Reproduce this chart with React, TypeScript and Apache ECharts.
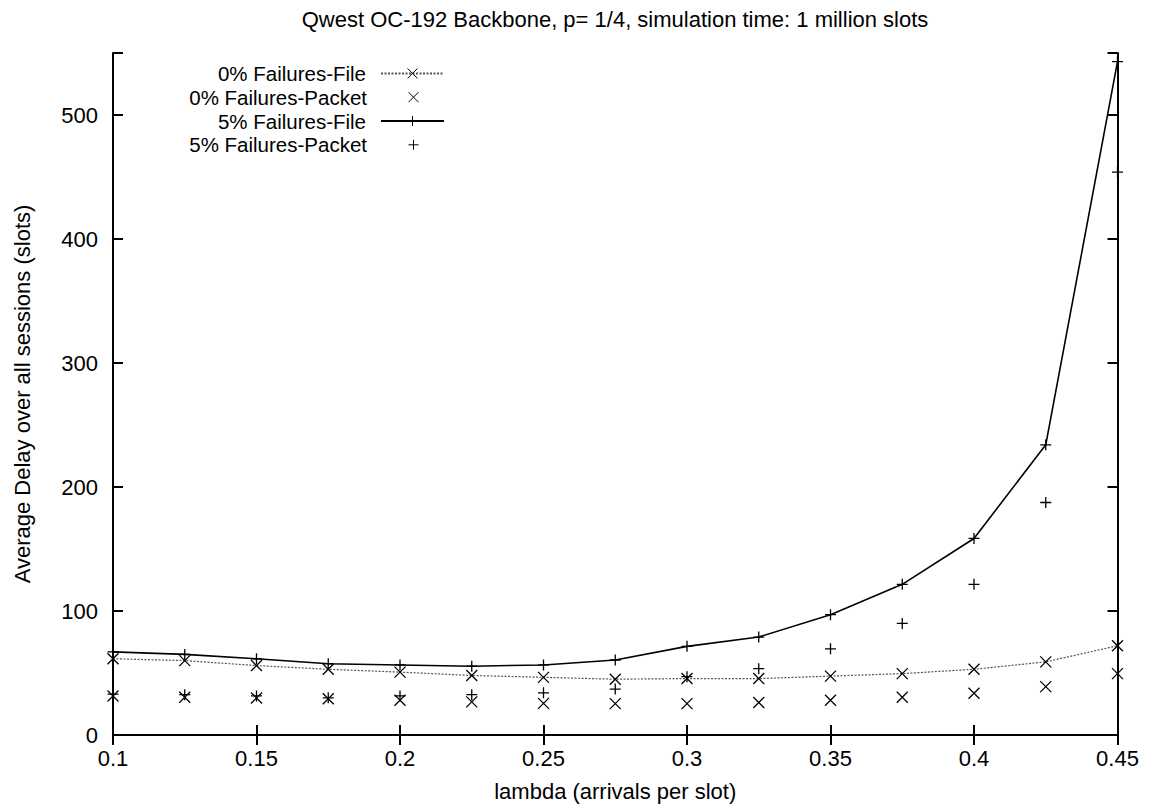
import React, { useEffect, useRef } from "react";
import * as echarts from "echarts";

// ---- data ----
const lambdas = [0.1, 0.125, 0.15, 0.175, 0.2, 0.225, 0.25, 0.275, 0.3, 0.325, 0.35, 0.375, 0.4, 0.425, 0.45];
const fail0File = [61.5, 60, 56, 53, 50.7, 48, 46.5, 45, 45.5, 45.5, 47.5, 49.5, 53, 59, 72];
const fail0Packet = [31.5, 30.5, 29.9, 29.3, 28, 26.7, 25.5, 25.3, 25.3, 26.2, 28, 30.5, 33.7, 39, 49.5];
const fail5File = [67, 65, 61.5, 57.5, 56.5, 55.5, 56.5, 60.5, 71.5, 79, 97, 121.5, 158.5, 234, 543];
const fail5Packet = [33, 32.5, 31.5, 30, 31.5, 32.5, 34, 37, 47, 53.5, 69.5, 90, 121.5, 187.5, 454];
const seriesNames = ["0% Failures-File", "0% Failures-Packet", "5% Failures-File", "5% Failures-Packet"];
const xTicks = { min: 0.1, max: 0.45, interval: 0.05 };
const yTicks = { min: 0, max: 550, interval: 100 };
const titleText = "Qwest OC-192 Backbone, p= 1/4, simulation time: 1 million slots";
const xName = "lambda (arrivals per slot)";
const yName = "Average Delay over all sessions (slots)";

// ---- styling ----
const FONT = "'Liberation Sans', Arial, Helvetica, sans-serif";
const CROSS = "path://M0,0L10,10M10,0L0,10";
const PLUS = "path://M5,0L5,10M0,5L10,5";
const LEGEND_LINE_H = 23.8;
const LEGEND_TOPS = [61.5, 85.3, 109.1, 132.9];

const pairs = (vals: number[]) => lambdas.map((x, i) => [x, vals[i]]);

export default function App() {
  const ref = useRef<HTMLDivElement>(null);
  useEffect(() => {
    if (!ref.current) return;
    const chart = echarts.init(ref.current, undefined, { renderer: "svg" });
    const axisLine = { show: true, lineStyle: { color: "#000", width: 2 } };
    const tick = { show: true, inside: true, length: 10, lineStyle: { color: "#000", width: 2 } };
    const markerStyle = { color: "rgba(0,0,0,0)", borderColor: "#000", borderWidth: 1.3 };
    const option: any = {
      animation: false,
      backgroundColor: "#fff",
      textStyle: { fontFamily: FONT },
      title: {
        text: titleText,
        left: 615,
        top: 8,
        padding: 0,
        textAlign: "center",
        textStyle: { fontFamily: FONT, fontSize: 22, fontWeight: "normal", color: "#000" },
      },
      legend: seriesNames.map((name, i) => ({
        data: [name],
        right: 704,
        top: LEGEND_TOPS[i],
        align: "right",
        orient: "horizontal",
        padding: 0,
        itemWidth: 63,
        itemHeight: 12.5,
        selectedMode: false,
        itemStyle: { borderWidth: 1 },
        textStyle: {
          fontFamily: FONT,
          fontSize: 20.5,
          lineHeight: LEGEND_LINE_H,
          color: "#000",
          padding: [0, 10, 0, 0],
        },
      })),
      grid: { left: 113, right: 31.5, top: 53, bottom: 70, containLabel: false },
      xAxis: [
        {
          type: "value",
          position: "bottom",
          ...xTicks,
          name: xName,
          nameLocation: "middle",
          nameGap: 45,
          nameTextStyle: { fontFamily: FONT, fontSize: 22, color: "#000" },
          axisLine,
          axisTick: tick,
          splitLine: { show: false },
          axisLabel: {
            fontFamily: FONT,
            fontSize: 22,
            color: "#000",
            margin: 12,
            formatter: (v: number) => String(parseFloat(v.toFixed(3))),
          },
        },
        {
          type: "value",
          position: "top",
          ...xTicks,
          axisLine,
          axisTick: tick,
          splitLine: { show: false },
          axisLabel: { show: false },
        },
      ],
      yAxis: [
        {
          type: "value",
          position: "left",
          ...yTicks,
          name: yName,
          nameLocation: "middle",
          nameGap: 80,
          nameTextStyle: { fontFamily: FONT, fontSize: 22, color: "#000" },
          axisLine,
          axisTick: tick,
          splitLine: { show: false },
          axisLabel: {
            fontFamily: FONT,
            fontSize: 22,
            color: "#000",
            margin: 15,
            formatter: (v: number) => (v % 100 === 0 ? String(v) : ""),
          },
        },
        {
          type: "value",
          position: "right",
          ...yTicks,
          axisLine,
          axisTick: tick,
          splitLine: { show: false },
          axisLabel: { show: false },
        },
      ],
      series: [
        {
          name: seriesNames[0],
          type: "line",
          data: pairs(fail0File),
          symbol: CROSS,
          symbolSize: 11,
          itemStyle: markerStyle,
          lineStyle: { color: "#555", width: 1.2, type: [2, 1.5] },
          z: 3,
        },
        {
          name: seriesNames[1],
          type: "line",
          data: pairs(fail0Packet),
          symbol: CROSS,
          symbolSize: 11,
          itemStyle: markerStyle,
          lineStyle: { color: "#000", width: 0, opacity: 0 },
          z: 3,
        },
        {
          name: seriesNames[2],
          type: "line",
          data: pairs(fail5File),
          symbol: PLUS,
          symbolSize: 11,
          itemStyle: markerStyle,
          lineStyle: { color: "#000", width: 1.6 },
          z: 4,
        },
        {
          name: seriesNames[3],
          type: "line",
          data: pairs(fail5Packet),
          symbol: PLUS,
          symbolSize: 11,
          itemStyle: markerStyle,
          lineStyle: { color: "#000", width: 0, opacity: 0 },
          z: 4,
        },
      ],
    };
    chart.setOption(option);
    return () => chart.dispose();
  }, []);
  return (
    <div
      ref={ref}
      style={{ position: "fixed", left: 0, top: 0, width: 1149, height: 807, background: "#fff" }}
    />
  );
}
